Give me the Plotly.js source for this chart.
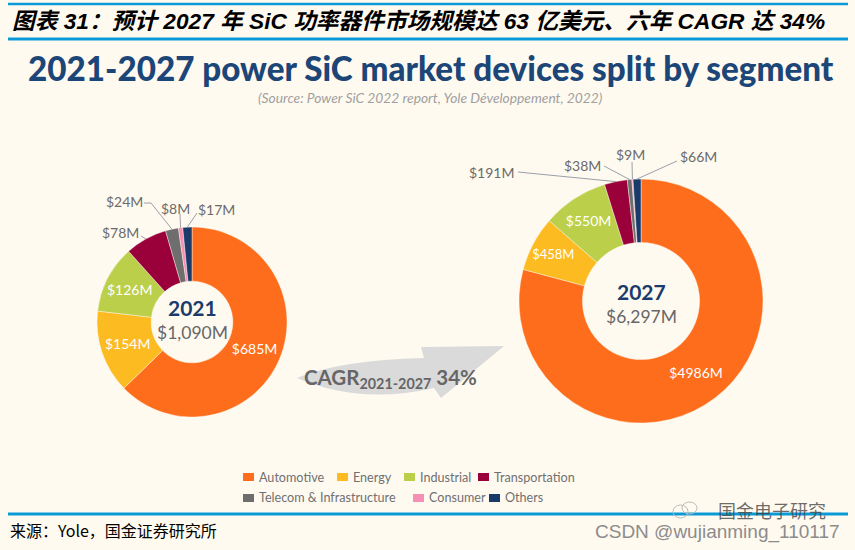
<!DOCTYPE html>
<html><head><meta charset="utf-8">
<script src="https://cdn.plot.ly/plotly-3.0.1.min.js"></script>
<style>html,body{margin:0;padding:0;background:#fffaf0;}</style>
</head><body>
<div id="chart" style="width:855px;height:550px;"></div>
<script>
// ---------- data ----------
const segments = ['Automotive','Energy','Industrial','Transportation','Telecom & Infrastructure','Consumer','Others'];
const segColors = ['#fe6d1b','#fdbb22','#bbcf4a','#9a0039','#6e6e6e','#f590b4','#1a3a6a'];
const years = ['2021','2027'];
const values2021 = [685,154,126,78,24,8,17];
const values2027 = [4986,458,550,191,38,9,66];
const totals = ['$1,090M','$6,297M'];
const cagrPeriod = '2021-2027';
const cagrValue = '34%';
const chartTitle = '2021-2027 power SiC market devices split by segment';
const chartSource = '(Source: Power SiC 2022 report, Yole Développement, 2022)';
const figTitle = '图表 31：预计 2027 年 SiC 功率器件市场规模达 63 亿美元、六年 CAGR 达 34%';
const footNote = '来源：Yole，国金证券研究所';

// ---------- layout helpers ----------
const W = 855, H = 550;
const px = x => x / W;
const py = y => 1 - y / H;
const fmt = v => '$' + v + 'M';
const font = 'Lato, "Open Sans", sans-serif';

// donut geometry (pixels)
const donuts = [
  {cx: 192, cy: 322, r: 95, hole: 0.43, values: values2021},
  {cx: 641, cy: 301, r: 122, hole: 0.48, values: values2027}
];

function slicePoint(d, idx) {
  const tot = d.values.reduce((a, b) => a + b, 0);
  let cum = 0;
  for (let i = 0; i < idx; i++) cum += d.values[i];
  const frac = (cum + d.values[idx] / 2) / tot;
  const ang = frac * 2 * Math.PI;
  return [d.cx + d.r * Math.sin(ang), d.cy - d.r * Math.cos(ang)];
}

const traces = donuts.map((d, k) => ({
  type: 'pie',
  labels: segments,
  values: d.values,
  text: d.values.map(fmt),
  textinfo: 'text',
  textposition: d.values.map((v, i) => i < 3 ? 'inside' : 'none'),
  insidetextorientation: 'horizontal',
  textfont: {family: font, size: 14, color: '#ffffff'},
  marker: {colors: segColors, line: {color: 'rgba(255,250,240,0.7)', width: 0.6}},
  hole: d.hole,
  sort: false,
  direction: 'clockwise',
  rotation: 0,
  hoverinfo: 'skip',
  showlegend: false,
  domain: {x: [px(d.cx - d.r), px(d.cx + d.r)], y: [py(d.cy + d.r), py(d.cy - d.r)]}
}));

const shapes = [];
const annotations = [];

// blue rules
[[4, 2.5], [39, 3], [514, 3]].forEach(([y, w]) => {
  shapes.push({type: 'line', xref: 'paper', yref: 'paper', x0: px(8), x1: px(848), y0: py(y), y1: py(y),
    line: {color: '#0a9ad8', width: w}});
});

// titles
annotations.push({xref: 'paper', yref: 'paper', x: px(10), y: py(21), xanchor: 'left', yanchor: 'middle',
  text: figTitle, showarrow: false,
  font: {family: '"Liberation Sans", "Noto Sans CJK SC", sans-serif', size: 22.7, color: '#000', weight: 'bold', style: 'italic'}});
annotations.push({xref: 'paper', yref: 'paper', x: px(430.5), y: py(68), xanchor: 'center', yanchor: 'middle',
  text: chartTitle, showarrow: false,
  font: {family: font, size: 33.2, color: '#1c4677', weight: 900}});
annotations.push({xref: 'paper', yref: 'paper', x: px(430), y: py(97), xanchor: 'center', yanchor: 'middle',
  text: chartSource, showarrow: false,
  font: {family: font, size: 13.8, color: '#a0a0a0', style: 'italic'}});

// centre texts
const centerY = [[307, 332], [291, 316]];
donuts.forEach((d, k) => {
  annotations.push({xref: 'paper', yref: 'paper', x: px(d.cx), y: py(centerY[k][0]), xanchor: 'center', yanchor: 'middle',
    text: '<b>' + years[k] + '</b>', showarrow: false, font: {family: font, size: 21, color: '#1b3b6b'}});
  annotations.push({xref: 'paper', yref: 'paper', x: px(d.cx), y: py(centerY[k][1]), xanchor: 'center', yanchor: 'middle',
    text: totals[k], showarrow: false, font: {family: font, size: 17.5, color: '#676767'}});
});

// outside labels: [donut, sliceIndex, labelX, labelY, leader start points]
const outside = [
  [0, 3, 121, 232, [[141, 236]]],
  [0, 4, 124, 201, [[144, 203], [151, 203]]],
  [0, 5, 175, 208, [[180, 214]]],
  [0, 6, 217, 209, [[197, 213]]],
  [1, 3, 491, 172, [[518, 172]]],
  [1, 4, 582, 165, [[604, 166]]],
  [1, 5, 630, 155, [[632, 162]]],
  [1, 6, 698, 157, [[677, 161]]]
];
outside.forEach(([di, si, lx, ly, pts]) => {
  const d = donuts[di];
  annotations.push({xref: 'paper', yref: 'paper', x: px(lx), y: py(ly), xanchor: 'center', yanchor: 'middle',
    text: fmt(d.values[si]), showarrow: false, font: {family: font, size: 14, color: '#6b6b6b'}});
  const end = slicePoint(d, si);
  const all = pts.concat([end]);
  let path = 'M ' + px(all[0][0]) + ' ' + py(all[0][1]);
  for (let i = 1; i < all.length; i++) path += ' L ' + px(all[i][0]) + ' ' + py(all[i][1]);
  shapes.push({type: 'path', xref: 'paper', yref: 'paper', path: path, line: {color: '#9aa0a8', width: 1}});
});

// CAGR arrow
const arrowPts = 'M ' + px(297) + ' ' + py(378) +
  ' Q ' + px(340) + ' ' + py(360) + ' ' + px(424) + ' ' + py(358) +
  ' L ' + px(421) + ' ' + py(347) +
  ' L ' + px(504) + ' ' + py(346) +
  ' L ' + px(441) + ' ' + py(398) +
  ' L ' + px(434) + ' ' + py(388) +
  ' Q ' + px(360) + ' ' + py(405) + ' ' + px(297) + ' ' + py(378) + ' Z';
shapes.push({type: 'path', xref: 'paper', yref: 'paper', path: arrowPts, fillcolor: '#dadada', line: {width: 0}, layer: 'below'});
annotations.push({xref: 'paper', yref: 'paper', x: px(302), y: py(378), xanchor: 'left', yanchor: 'middle',
  text: '<b>CAGR<sub>' + cagrPeriod + '</sub> ' + cagrValue + '</b>', showarrow: false,
  font: {family: font, size: 20.5, color: '#666666'}});

// legend (built from segments / colours)
const legendPos = [[243, 477], [337, 477], [404, 477], [478, 477], [243, 498], [413, 498], [489, 498]];
segments.forEach((s, i) => {
  const [x, y] = legendPos[i];
  shapes.push({type: 'rect', xref: 'paper', yref: 'paper', x0: px(x), x1: px(x + 11), y0: py(y + 4), y1: py(y - 4),
    fillcolor: segColors[i], line: {width: 0}});
  annotations.push({xref: 'paper', yref: 'paper', x: px(x + 14), y: py(y), xanchor: 'left', yanchor: 'middle',
    text: s, showarrow: false, font: {family: font, size: 12.6, color: '#707070'}});
});

// footer
annotations.push({xref: 'paper', yref: 'paper', x: px(8), y: py(530), xanchor: 'left', yanchor: 'middle',
  text: footNote, showarrow: false, font: {family: '"Noto Sans CJK SC", sans-serif', size: 16, color: '#000'}});
annotations.push({xref: 'paper', yref: 'paper', x: px(842), y: py(532), xanchor: 'right', yanchor: 'middle',
  text: 'CSDN @wujianming_110117', showarrow: false, font: {family: '"Liberation Sans", sans-serif', size: 19, color: '#8c8c8c'}});
annotations.push({xref: 'paper', yref: 'paper', x: px(828), y: py(510), xanchor: 'right', yanchor: 'middle',
  text: '国金电子研究', showarrow: false, font: {family: '"Noto Sans CJK SC", sans-serif', size: 18, color: 'rgba(60,60,60,0.75)'}});
shapes.push({type: 'circle', xref: 'paper', yref: 'paper', x0: px(673), x1: px(688), y0: py(518), y1: py(505), line: {color: '#bbbbbb', width: 1}});
shapes.push({type: 'circle', xref: 'paper', yref: 'paper', x0: px(682), x1: px(697), y0: py(514), y1: py(502), line: {color: '#bbbbbb', width: 1}});

const layout = {
  width: W, height: H,
  margin: {l: 0, r: 0, t: 0, b: 0},
  paper_bgcolor: '#fffaf0',
  plot_bgcolor: '#fffaf0',
  showlegend: false,
  shapes: shapes,
  annotations: annotations
};

Plotly.newPlot('chart', traces, layout, {displayModeBar: false, staticPlot: true});
</script>
</body></html>
